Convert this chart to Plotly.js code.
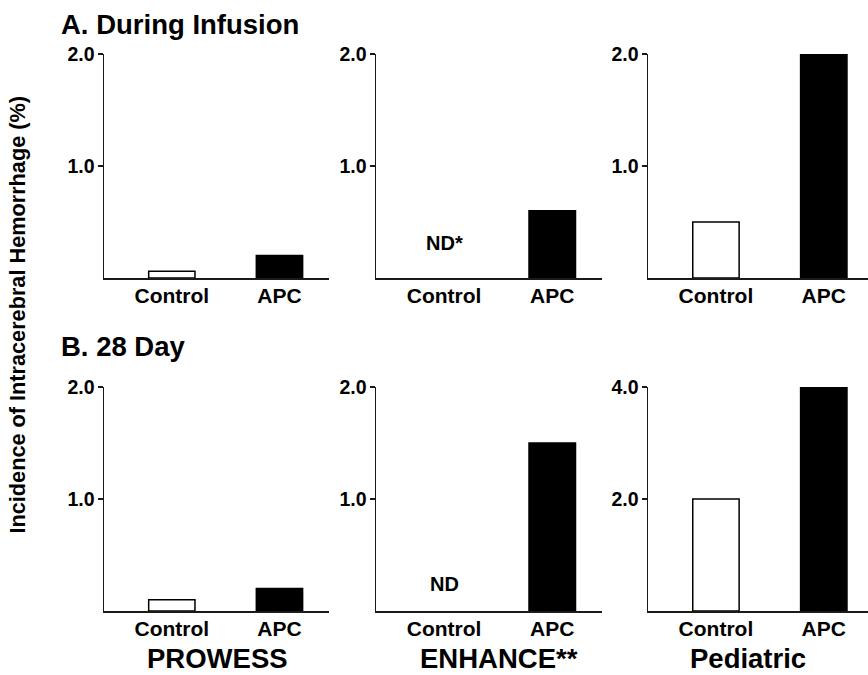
<!DOCTYPE html>
<html>
<head>
<meta charset="utf-8">
<script src="https://cdn.plot.ly/plotly-3.0.1.min.js"></script>
<style>html,body{margin:0;padding:0;background:#fff;}#chart{width:868px;height:675px;}</style>
</head>
<body>
<div id="chart"></div>
<script>
// ---- data ----
const categories = ['Control', 'APC'];
const studies = ['PROWESS', 'ENHANCE**', 'Pediatric'];
const infusionControl = [0.06, null, 0.5];   // ENHANCE control: ND*
const infusionAPC = [0.2, 0.6, 2.0];
const day28Control = [0.1, null, 2.0];       // ENHANCE control: ND
const day28APC = [0.2, 1.5, 4.0];
const rowTitles = ['A. During Infusion', 'B. 28 Day'];
const ndLabels = ['ND*', 'ND'];
const yTitle = 'Incidence of Intracerebral Hemorrhage (%)';
const yTickVals = [[[1, 2], [1, 2], [1, 2]], [[1, 2], [1, 2], [2, 4]]];
const yTickText = [[['1.0', '2.0'], ['1.0', '2.0'], ['1.0', '2.0']], [['1.0', '2.0'], ['1.0', '2.0'], ['2.0', '4.0']]];
const yMax = [[2, 2, 2], [2, 2, 4]];

// ---- layout helpers ----
const W = 868, H = 675;
const FONT = 'Liberation Sans, Arial, Helvetica, sans-serif';
const colPx = [[104, 329], [376, 602], [648, 868]];
const xRanges = [[-0.63, 1.46], [-0.63, 1.46], [-0.63, 1.41]];
const rowPx = [[54, 278], [387, 611]];
const axisColor = '#1a1a1a';

const traces = [];
const layout = {
  width: W, height: H,
  margin: {l: 0, r: 0, t: 0, b: 0},
  paper_bgcolor: '#fff', plot_bgcolor: '#fff',
  showlegend: false,
  bargap: 0,
  annotations: [],
  font: {family: FONT, color: '#000'}
};

const rows = [[infusionControl, infusionAPC], [day28Control, day28APC]];
let idx = 0;
for (let r = 0; r < 2; r++) {
  for (let c = 0; c < 3; c++) {
    idx++;
    const xa = 'x' + (idx === 1 ? '' : idx);
    const ya = 'y' + (idx === 1 ? '' : idx);
    const ctrl = rows[r][0][c];
    const apc = rows[r][1][c];
    traces.push({
      type: 'bar',
      x: [0, 1],
      y: [ctrl, apc],
      width: 0.43,
      xaxis: xa, yaxis: ya,
      marker: {
        color: ['#ffffff', '#000000'],
        line: {color: '#000', width: 1.5}
      },
      hoverinfo: 'skip'
    });
    const xKey = 'xaxis' + (idx === 1 ? '' : idx);
    const yKey = 'yaxis' + (idx === 1 ? '' : idx);
    layout[xKey] = {
      domain: [colPx[c][0] / W, colPx[c][1] / W],
      range: xRanges[c],
      anchor: ya,
      showline: true, linecolor: axisColor, linewidth: 1.5,
      showgrid: false, zeroline: false,
      ticks: '',
      tickmode: 'array', tickvals: [0, 1], ticktext: categories,
      tickfont: {family: FONT, size: 21, weight: 'bold', color: '#000'},
      ticklabelstandoff: -2,
      fixedrange: true
    };
    layout[yKey] = {
      domain: [1 - rowPx[r][1] / H, 1 - rowPx[r][0] / H],
      range: [0, yMax[r][c]],
      anchor: xa,
      showline: true, linecolor: axisColor, linewidth: 1.5,
      showgrid: false, zeroline: false,
      ticks: 'outside', ticklen: 5, tickwidth: 1.5, tickcolor: axisColor,
      tickmode: 'array', tickvals: yTickVals[r][c], ticktext: yTickText[r][c],
      tickfont: {family: FONT, size: 19.5, weight: 'bold', color: '#000'},
      ticklabelstandoff: -1,
      fixedrange: true
    };
    if (ctrl === null) {
      layout.annotations.push({
        text: ndLabels[r], xref: xa, yref: ya, x: 0, y: r === 0 ? 0.31 : 0.24,
        showarrow: false, xanchor: 'center', yanchor: 'middle',
        font: {family: FONT, size: 20, weight: 'bold', color: '#000'}
      });
    }
  }
}

// row titles
const rowTitleY = [25, 346];
for (let r = 0; r < 2; r++) {
  layout.annotations.push({
    text: rowTitles[r], xref: 'paper', yref: 'paper',
    x: 59 / W, y: 1 - rowTitleY[r] / H, xanchor: 'left', yanchor: 'middle',
    showarrow: false,
    font: {family: FONT, size: 27.5, weight: 'bold', color: '#000'}
  });
}
// study labels
const studyX = [217, 499, 748];
for (let c = 0; c < 3; c++) {
  layout.annotations.push({
    text: studies[c], xref: 'paper', yref: 'paper',
    x: studyX[c] / W, y: 0, xanchor: 'center', yanchor: 'bottom',
    borderpad: 0,
    showarrow: false,
    font: {family: FONT, size: 27.5, weight: 'bold', color: '#000'}
  });
}
// y title
layout.annotations.push({
  text: yTitle, xref: 'paper', yref: 'paper',
  x: 17 / W, y: 1 - 314.5 / H, xanchor: 'center', yanchor: 'middle',
  textangle: -90, showarrow: false,
  font: {family: FONT, size: 21.7, weight: 'bold', color: '#000'}
});

Plotly.newPlot('chart', traces, layout, {displayModeBar: false, staticPlot: true});
</script>
</body>
</html>
